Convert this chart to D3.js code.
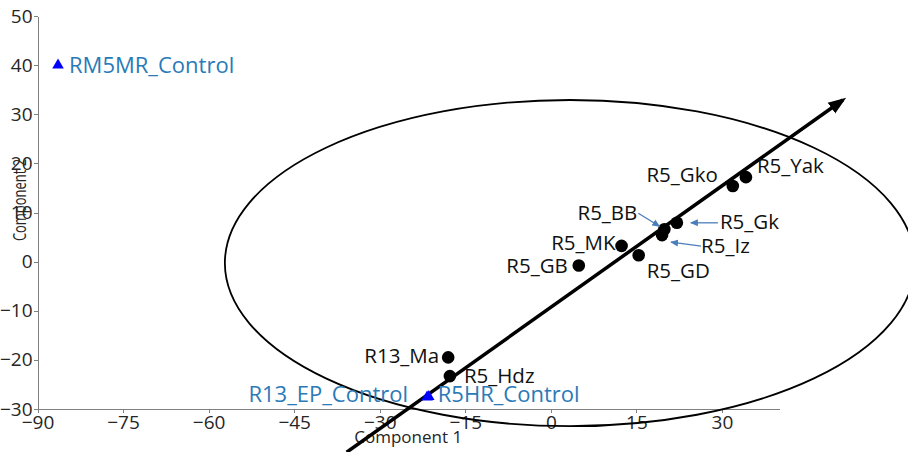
<!DOCTYPE html>
<meta charset="utf-8">
<html>
<style>
  body { margin: 0; background: #fff; }
  .chart text { font-family: "Open Sans", sans-serif; }
  .axis path, .axis line { stroke: #808080; shape-rendering: crispEdges; }
  .axis text { fill: #262626; font-size: 19px; }
  .lbl { fill: #111; font-size: 20.5px; }
  .ctl { fill: #2a7ab8; font-size: 22px; }
</style>
<script src="https://cdnjs.cloudflare.com/ajax/libs/d3/7.8.5/d3.min.js"></script>
<body>
  <svg class="chart"></svg>
</body>
<script>
  var width = 908;
  var height = 452;

  // sample scores
  var sampleNames = ["R5_Yak", "R5_Gko", "R5_Gk", "R5_BB", "R5_Iz", "R5_MK", "R5_GD", "R5_GB", "R13_Ma", "R5_Hdz"];
  var comp1 = [34.2, 31.9, 22.1, 19.9, 19.5, 12.4, 15.4, 4.9, -18.0, -17.7];
  var comp2 = [17.2, 15.4, 7.9, 6.6, 5.4, 3.2, 1.3, -0.8, -19.5, -23.3];

  // controls (blue triangles)
  var controlNames = ["RM5MR_Control", "R13_EP_Control", "R5HR_Control"];
  var controlC1 = [-86.4, -21.7, -21.4];
  var controlC2 = [40.0, -27.6, -27.5];

  var xTicks = [-90, -75, -60, -45, -30, -15, 0, 15, 30];
  var yTicks = [-30, -20, -10, 0, 10, 20, 30, 40, 50];

  // confidence ellipse and trend arrow (data units)
  var ellCenter = [3.35, -0.3];
  var ellRadius = [60.5, 33.2];
  var trendFrom = [-35.8, -38.8];
  var trendTo = [51.2, 32.9];

  // label placement (px offsets from marker)
  var labelPos = {
    "R5_Yak": [11, -4.5, "start"],
    "R5_Gko": [-15, -4, "end"],
    "R5_Gk": [43, 6, "start"],
    "R5_BB": [-27, -9, "end"],
    "R5_Iz": [39, 18, "start"],
    "R5_MK": [-6, 4, "end"],
    "R5_GD": [8, 23, "start"],
    "R5_GB": [-11, 7, "end"],
    "R13_Ma": [-9, 6, "end"],
    "R5_Hdz": [14, 7, "start"],
    "RM5MR_Control": [11, 8, "start"],
    "R13_EP_Control": [-19, 5, "end"],
    "R5HR_Control": [9, 5, "start"]
  };
  // little pointer arrows [fromdx, fromdy, todx, tody]
  var pointers = {
    "R5_BB": [-26, -16, -5, -3],
    "R5_Gk": [41, 0, 14, 0],
    "R5_Iz": [39, 11, 9, 7]
  };

  var x = d3.scaleLinear().domain([-90, 40]).range([37.5, 779]);
  var y = d3.scaleLinear().domain([-30, 50]).range([409, 16]);

  var chart = d3.select(".chart")
    .attr("width", width)
    .attr("height", height);

  var defs = chart.append("defs");
  defs.append("marker")
    .attr("id", "bigHead")
    .attr("markerUnits", "userSpaceOnUse")
    .attr("viewBox", "0 -7 18 14")
    .attr("refX", 14).attr("refY", 0)
    .attr("markerWidth", 18).attr("markerHeight", 14)
    .attr("orient", "auto")
    .append("path").attr("d", "M0,-6.5L18,0L0,6.5Z").attr("fill", "#000");
  defs.append("marker")
    .attr("id", "smallHead")
    .attr("markerUnits", "userSpaceOnUse")
    .attr("viewBox", "0 -4 8 8")
    .attr("refX", 7).attr("refY", 0)
    .attr("markerWidth", 8).attr("markerHeight", 8)
    .attr("orient", "auto")
    .append("path").attr("d", "M0,-3.5L8,0L0,3.5Z").attr("fill", "#4a7ebb");

  // axes
  chart.append("g")
    .attr("class", "axis")
    .attr("transform", "translate(0," + y(-30) + ")")
    .call(d3.axisBottom(x).tickValues(xTicks).tickSize(4).tickPadding(3).tickSizeOuter(0));

  chart.append("g")
    .attr("class", "axis")
    .attr("transform", "translate(" + x(-90) + ",0)")
    .call(d3.axisLeft(y).tickValues(yTicks).tickSize(4).tickPadding(1).tickSizeOuter(0));

  chart.append("text")
    .attr("x", (x(-90) + x(40)) / 2)
    .attr("y", 443)
    .attr("text-anchor", "middle")
    .attr("fill", "#262626")
    .style("font-size", "17px")
    .text("Component 1");

  chart.append("text")
    .attr("transform", "translate(26,200) rotate(-90) scale(0.72,1)")
    .attr("text-anchor", "middle")
    .attr("fill", "#262626")
    .style("font-size", "18px")
    .text("Component 2");

  // ellipse
  chart.append("ellipse")
    .attr("cx", x(ellCenter[0]))
    .attr("cy", y(ellCenter[1]))
    .attr("rx", x(ellRadius[0]) - x(0))
    .attr("ry", y(0) - y(ellRadius[1]))
    .attr("fill", "none")
    .attr("stroke", "#000")
    .attr("stroke-width", 1.8);

  // trend arrow
  chart.append("line")
    .attr("x1", x(trendFrom[0])).attr("y1", y(trendFrom[1]))
    .attr("x2", x(trendTo[0])).attr("y2", y(trendTo[1]))
    .attr("stroke", "#000")
    .attr("stroke-width", 3.5)
    .attr("marker-end", "url(#bigHead)");

  // samples
  var samples = sampleNames.map(function(n, i) { return { name: n, c1: comp1[i], c2: comp2[i] }; });
  var controls = controlNames.map(function(n, i) { return { name: n, c1: controlC1[i], c2: controlC2[i] }; });

  chart.selectAll(".pt")
    .data(samples)
    .enter().append("circle")
    .attr("class", "pt")
    .attr("cx", function(d) { return x(d.c1); })
    .attr("cy", function(d) { return y(d.c2); })
    .attr("r", 6.3)
    .attr("fill", "#000");

  chart.selectAll(".tri")
    .data(controls)
    .enter().append("path")
    .attr("class", "tri")
    .attr("d", d3.symbol().type(d3.symbolTriangle).size(58))
    .attr("transform", function(d) { return "translate(" + x(d.c1) + "," + y(d.c2) + ")"; })
    .attr("fill", "#0000ff");

  // pointer arrows
  samples.filter(function(d) { return pointers[d.name]; }).forEach(function(d) {
    var p = pointers[d.name];
    chart.append("line")
      .attr("x1", x(d.c1) + p[0]).attr("y1", y(d.c2) + p[1])
      .attr("x2", x(d.c1) + p[2]).attr("y2", y(d.c2) + p[3])
      .attr("stroke", "#4a7ebb")
      .attr("stroke-width", 1.3)
      .attr("marker-end", "url(#smallHead)");
  });

  function addLabels(data, cls) {
    chart.selectAll("." + cls)
      .data(data)
      .enter().append("text")
      .attr("class", cls)
      .attr("x", function(d) { return x(d.c1) + labelPos[d.name][0]; })
      .attr("y", function(d) { return y(d.c2) + labelPos[d.name][1]; })
      .attr("text-anchor", function(d) { return labelPos[d.name][2]; })
      .text(function(d) { return d.name; });
  }
  addLabels(samples, "lbl");
  addLabels(controls, "ctl");
</script>

</html>
